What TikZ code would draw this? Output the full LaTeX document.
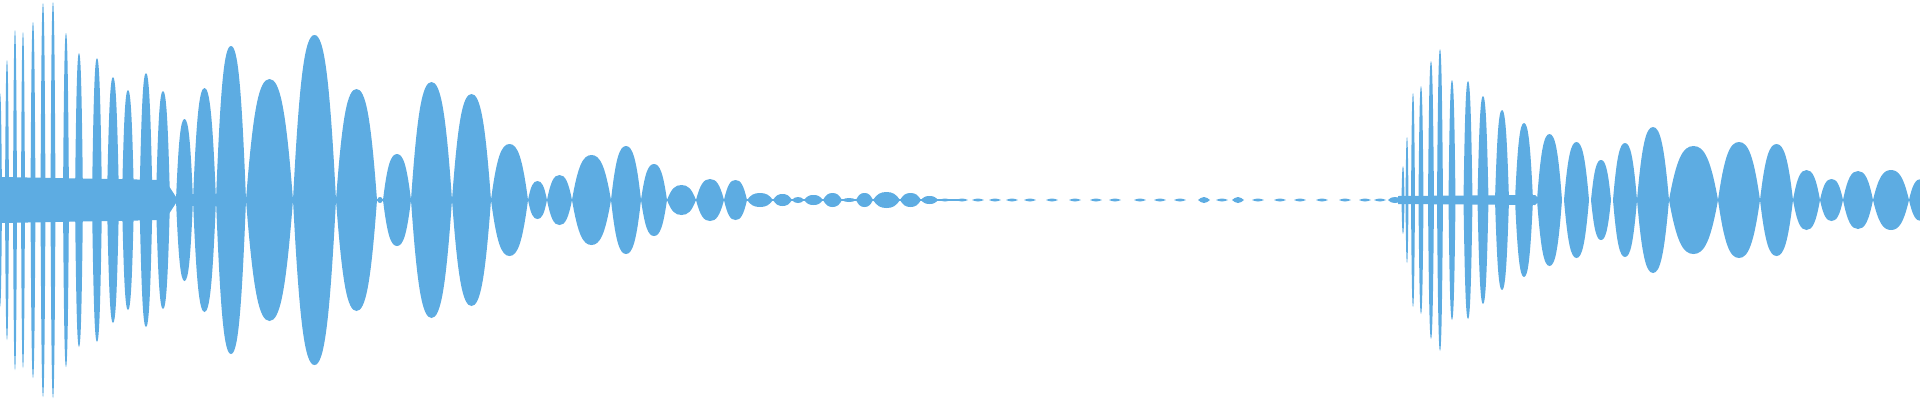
\documentclass[tikz,border=0pt]{standalone}
\usetikzlibrary{calc}
\definecolor{waveblue}{RGB}{93,172,226}

\begin{document}
\begin{tikzpicture}[x=0.1mm,y=0.1mm, wave/.style={fill=waveblue,draw=none}]
\useasboundingbox (0,0) rectangle (1920,400);
\clip (0,0) rectangle (1920,400);
% centre bands under the dense spikes
\fill[wave] (0,177) -- (165,180) -- (178,200) -- (165,220) -- (0,223) -- cycle;
\fill[wave] (1398,196) -- (1535,195) -- (1540,200) -- (1535,205) -- (1398,204) -- cycle;
\fill[wave] (0,199) rectangle (960,201);
% lobes: start/end/height
\foreach \a/\b/\h in {-2/2/107,5/9/140,13/17/170,21/25/168,30.5/35.5/178,40.5/45.5/197,
    50.5/55.5/198,63/69/167,75/83/147,92/102/142,107/119/123,122/134/110,139.5/152.5/127,
    156/170/109,176/193/81,
    193/216/112,216/246/154,246/293/121,293/336/165,336/377/111,377/383/3,383/411/46,
    411/452/118,452/491/106,491/528/56,528/547/19,547/572/25,572/611/45,611/641/54,
    641/667/36,667/696/15,696/724/21,724/747/20,747/773/7,773/792/6,792/804/3,804/823/5,
    823/842/7,842/856/2,856/873/7,873/900/8,900/921/7,921/938/4,
    1388/1402/3,1401.5/1404.5/34,1405.5/1408.5/63,1411/1415/107,1418.5/1423.5/114,
    1428/1434/139,1437/1443/151,1448.5/1455.5/120,1463.5/1472.5/119,1477.5/1488.5/104,
    1495/1509/90,1515/1533/77,
    1537/1562/66,1564/1589/58,1591/1611/40,1613/1637/57,1637/1669/73,1669/1718/54,
    1718/1760/58,1760/1793/56,1793/1820/30,1820/1843/21,1843/1873/29,1873/1909/30,
    1909/1933/21}
{
    \pgfmathsetmacro{\m}{(\a+\b)/2}
    \pgfmathsetmacro{\w}{(\b-\a)/2}
    \fill[wave] (\a,200)
        .. controls (\a+0.3*\w,200+0.75*\h) and (\m-0.45*\w,200+\h) .. (\m,200+\h)
        .. controls (\m+0.45*\w,200+\h) and (\b-0.3*\w,200+0.75*\h) .. (\b,200)
        .. controls (\b-0.3*\w,200-0.75*\h) and (\m+0.45*\w,200-\h) .. (\m,200-\h)
        .. controls (\m-0.45*\w,200-\h) and (\a+0.3*\w,200-0.75*\h) .. (\a,200) -- cycle;
}
% faint flecks in the quiet part
\foreach \x/\h in {945/1.5,962/1.5,978/1.5,995/1.5,1012/1.5,1030/1.5,1052/1.5,1075/1.5,
    1096/1.5,1115/1.5,1140/1.5,1160/1.5,1180/1.5,1204/3,1222/1.5,1238/3,1258/1.5,
    1280/1.5,1300/1.5,1322/1.5,1345/1.5,1365/1.5,1380/1.5}
    \fill[wave] (\x-6,200) sin (\x,200+\h) cos (\x+6,200) sin (\x,200-\h) cos (\x-6,200) -- cycle;
\end{tikzpicture}
\end{document}
